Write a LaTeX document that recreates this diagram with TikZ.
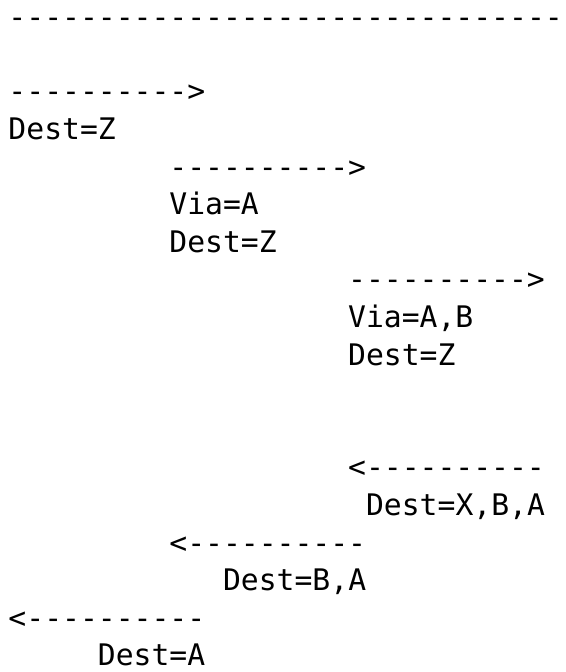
\documentclass[tikz,border=0pt]{standalone}
\usepackage{fontspec}
\setmonofont{DejaVu Sans Mono}
\usepackage{tikz}
\tikzset{asciirow/.style={anchor=base west, inner sep=0pt, outer sep=0pt, font=\ttfamily\fontsize{29.7}{37.7}\selectfont}}
\begin{document}
\begin{tikzpicture}[x=1pt, y=1pt]
					\useasboundingbox (0,0) rectangle (565,-672);
					\node[asciirow] (rule) at (8.5,-27) {-------------------------------};
					\node[asciirow] (req1) at (8.5,-101.8) {---------->};
					\node[asciirow] (req1dest) at (8.5,-139.4) {Dest=Z};
					\node[asciirow] (req2) at (169.4,-177) {---------->};
					\node[asciirow] (req2via) at (169.4,-214.6) {Via=A};
					\node[asciirow] (req2dest) at (169.4,-252.2) {Dest=Z};
					\node[asciirow] (req3) at (348.2,-289.8) {---------->};
					\node[asciirow] (req3via) at (348.2,-327.4) {Via=A,B};
					\node[asciirow] (req3dest) at (348.2,-365) {Dest=Z};
					\node[asciirow] (rep3) at (348.2,-477.8) {<----------};
					\node[asciirow] (rep3dest) at (366.1,-515.4) {Dest=X,B,A};
					\node[asciirow] (rep2) at (169.4,-553) {<----------};
					\node[asciirow] (rep2dest) at (223.1,-590.6) {Dest=B,A};
					\node[asciirow] (rep1) at (8.5,-628.2) {<----------};
					\node[asciirow] (rep1dest) at (97.9,-665.8) {Dest=A};
				\end{tikzpicture}
\end{document}
